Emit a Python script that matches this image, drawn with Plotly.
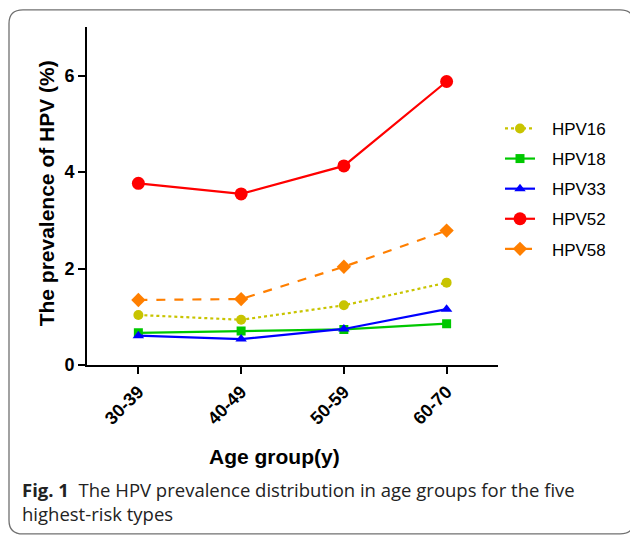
import plotly.graph_objects as go

W, H = 630, 542

age_groups = ["30-39", "40-49", "50-59", "60-70"]
hpv16 = [1.04, 0.94, 1.24, 1.71]
hpv18 = [0.67, 0.71, 0.74, 0.86]
hpv33 = [0.61, 0.54, 0.75, 1.16]
hpv52 = [3.77, 3.55, 4.13, 5.88]
hpv58 = [1.35, 1.37, 2.04, 2.79]
y_ticks = [0, 2, 4, 6]

series = [
    ("HPV16", hpv16, "#c8c400", "dot", "circle", 10),
    ("HPV18", hpv18, "#00c800", "solid", "square", 9),
    ("HPV33", hpv33, "#0000ff", "solid", "triangle-up", 10),
    ("HPV52", hpv52, "#ff0000", "solid", "circle", 13),
    ("HPV58", hpv58, "#ff7f00", "dash", "diamond", 11),
]

FONT = "Liberation Sans, Arial, sans-serif"

fig = go.Figure()
for name, vals, col, dash, sym, size in series:
    fig.add_trace(go.Scatter(
        x=list(range(len(age_groups))), y=vals, name="\u2002\u2009" + name,
        mode="lines+markers",
        line=dict(color=col, width=2.2, dash=dash),
        marker=dict(color=col, symbol=sym, size=size, line=dict(width=0)),
        legendgroup=name,
    ))

def px(x):
    return x / W

def py(y):
    return 1 - y / H

# plot area pixels
L, R, T, B = 87, 498, 27, 372

fig.update_layout(
    width=W, height=H, autosize=False,
    margin=dict(l=0, r=0, t=0, b=0),
    paper_bgcolor="white", plot_bgcolor="white",
    font=dict(family=FONT, color="black"),
    showlegend=True,
    legend=dict(
        x=px(500), y=py(113), xanchor="left", yanchor="top",
        font=dict(size=17, family=FONT, color="black"),
        traceorder="grouped", tracegroupgap=5, itemwidth=30,
        bgcolor="rgba(0,0,0,0)",
    ),
    xaxis=dict(
        domain=[px(L), px(R)], range=[-0.5, 3.5],
        tickmode="array", tickvals=list(range(len(age_groups))), ticktext=age_groups,
        tickangle=-45, ticks="outside", ticklen=7, tickwidth=2, tickcolor="black",
        showline=True, linecolor="black", linewidth=2, showgrid=False, zeroline=False,
        tickfont=dict(size=18, family=FONT, color="black", weight="bold"),
    ),
    yaxis=dict(
        domain=[py(B), py(T)], range=[0, 7.02],
        tickmode="array", tickvals=y_ticks, ticktext=[str(v) for v in y_ticks],
        ticks="outside", ticklen=7, tickwidth=2, tickcolor="black",
        showline=True, linecolor="black", linewidth=2, showgrid=False, zeroline=False,
        tickfont=dict(size=18, family=FONT, color="black", weight="bold"),
    ),
)

# y-axis title
fig.add_annotation(
    text="<b>The prevalence of HPV (%)</b>", xref="paper", yref="paper",
    x=px(46), y=py(197), textangle=-90, showarrow=False,
    font=dict(size=21, family=FONT, color="black"),
    xanchor="center", yanchor="middle",
)
# x-axis title
fig.add_annotation(
    text="<b>Age group(y)</b>", xref="paper", yref="paper",
    x=px(274), y=py(465), showarrow=False,
    font=dict(size=21, family=FONT, color="black"),
    xanchor="center", yanchor="middle",
)
# caption
fig.add_annotation(
    text="<b>Fig. 1</b>  The HPV prevalence distribution in age groups for the five<br>highest-risk types",
    xref="paper", yref="paper", x=px(20), y=py(484), showarrow=False, align="left",
    font=dict(size=18.5, family="Open Sans", color="#222"),
    xanchor="left", yanchor="top",
)

# rounded frame
x0, y0, x1, y1, r = 9, 10, 634, 544, 14
path = (f"M {px(x0)},{py(y0 + r)} Q {px(x0)},{py(y0)} {px(x0 + r)},{py(y0)} "
        f"L {px(x1 - r)},{py(y0)} Q {px(x1)},{py(y0)} {px(x1)},{py(y0 + r)} "
        f"L {px(x1)},{py(y1 - r)} Q {px(x1)},{py(y1)} {px(x1 - r)},{py(y1)} "
        f"L {px(x0 + r)},{py(y1)} Q {px(x0)},{py(y1)} {px(x0)},{py(y1 - r)} Z")
fig.add_shape(type="path", path=path, xref="paper", yref="paper",
              line=dict(color="#707070", width=1.3), layer="below")

css = ("var s=document.createElement('style');"
       "s.innerHTML='html,body{margin:0;padding:0;overflow:hidden;}';"
       "document.head.appendChild(s);")
fig.write_html("out.html", post_script=css,
               config={"displayModeBar": False, "responsive": False})
